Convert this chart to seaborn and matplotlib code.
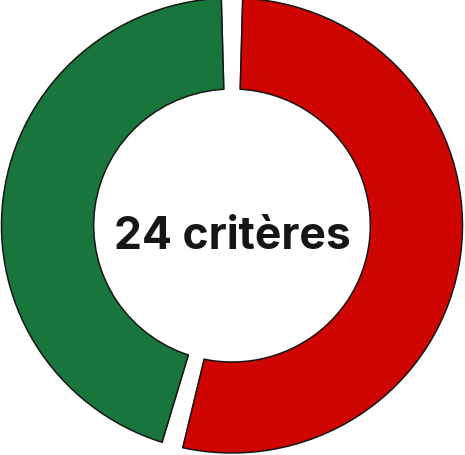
import numpy as np
import matplotlib
matplotlib.use("Agg")
import matplotlib.pyplot as plt
import seaborn as sns

# data
labels = ["Non conformes", "Conformes"]
counts = [13, 11]
colors = ["#ce0500", "#18753c"]
center_text = "24 critères"

sns.set_theme(style="white")
plt.rcParams["font.family"] = ["Inter", "DejaVu Sans"]

fig = plt.figure(figsize=(4.65, 4.56), dpi=100)
ax = fig.add_axes([0, 0, 1, 1])

inner = 0.6
edge = "#161616"
ax.pie(counts, labels=None, colors=colors, startangle=90, counterclock=False, radius=1,
       wedgeprops=dict(width=1 - inner, edgecolor=edge, linewidth=1.1))

# white gaps between the slices (a bit wider on the outside)
px = 1 / 230.0
w_in, w_out = 7.5 * px, 10.0 * px
total = sum(counts)
bounds = 90 - 360 * np.cumsum([0] + counts[:-1]) / total
for b in np.deg2rad(bounds):
    u = np.array([np.cos(b), np.sin(b)])
    n = np.array([-np.sin(b), np.cos(b)])

    def side(r, sign, extra=0.0):
        w = w_in + (w_out - w_in) * (r - inner) / (1 - inner) + extra
        return u * r + sign * n * w

    r0, r1 = inner - 0.03, 1.03
    poly = np.array([side(r0, 1), side(r1, 1), side(r1, -1), side(r0, -1)])
    ax.fill(poly[:, 0], poly[:, 1], color="white", lw=0, zorder=3)
    for s in (1, -1):
        seg = np.array([side(inner, s, 0.7 * px), side(1, s, 0.7 * px)])
        ax.plot(seg[:, 0], seg[:, 1], color=edge, lw=1.1, solid_capstyle="butt", zorder=4)

ax.text(0, -0.097, center_text, ha="center", va="baseline", fontsize=32,
        fontweight="bold", color="#161616", zorder=5)

ax.set_aspect("auto")
ax.set_xlim(-232 / 230.5, (465 - 232) / 230.5)
ax.set_ylim(-229.5 / 227.5, 226.5 / 227.5)
ax.axis("off")

fig.savefig("out.png", dpi=100)
